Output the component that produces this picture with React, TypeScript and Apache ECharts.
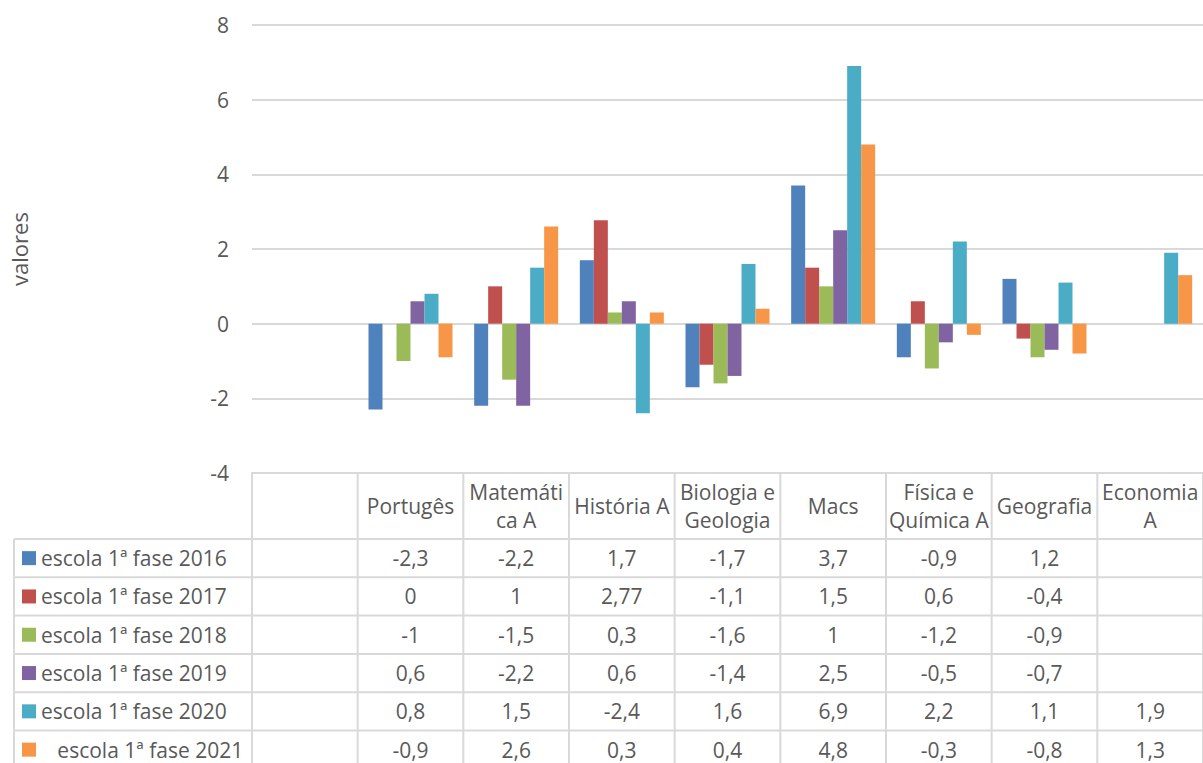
import React, { useEffect, useRef } from "react";
import * as echarts from "echarts";

const categories = ["", "Portugês", "Matemática A", "História A", "Biologia e Geologia", "Macs", "Física e Química A", "Geografia", "Economia A"];
const headerLabels = ["", "Portugês", "Matemáti\nca A", "História A", "Biologia e\nGeologia", "Macs", "Física e\nQuímica A", "Geografia", "Economia\nA"];
const seriesNames = [
  "escola 1ª fase 2016",
  "escola 1ª fase 2017",
  "escola 1ª fase 2018",
  "escola 1ª fase 2019",
  "escola 1ª fase 2020",
  "   escola 1ª fase 2021",
];
const s2016 = [null, -2.3, -2.2, 1.7, -1.7, 3.7, -0.9, 1.2, null];
const s2017 = [null, 0, 1, 2.77, -1.1, 1.5, 0.6, -0.4, null];
const s2018 = [null, -1, -1.5, 0.3, -1.6, 1, -1.2, -0.9, null];
const s2019 = [null, 0.6, -2.2, 0.6, -1.4, 2.5, -0.5, -0.7, null];
const s2020 = [null, 0.8, 1.5, -2.4, 1.6, 6.9, 2.2, 1.1, 1.9];
const s2021 = [null, -0.9, 2.6, 0.3, 0.4, 4.8, -0.3, -0.8, 1.3];
const seriesValues = [s2016, s2017, s2018, s2019, s2020, s2021];
const colors = ["#4F81BD", "#C0504D", "#9BBB59", "#8064A2", "#4BACC6", "#F79646"];
const yMin = -4;
const yMax = 8;
const yInterval = 2;

const FONT = "Open Sans";
const TXT = "#595959";
const LINE = "#d9d9d9";
const FS = 21;

export default function App() {
  const ref = useRef<HTMLDivElement>(null);
  useEffect(() => {
    if (!ref.current) return;
    const chart = echarts.init(ref.current, null, { renderer: "svg" });
    const W = 1203;
    const H = 763;
    const gridTop = 25;
    const gridBottomY = 473;
    chart.setOption({
      animation: false,
      backgroundColor: "#ffffff",
      textStyle: { fontFamily: FONT },
      grid: { left: 252, top: gridTop, right: 0, bottom: H - gridBottomY, containLabel: false, outerBoundsMode: "none" },
      xAxis: {
        type: "category",
        data: categories,
        position: "bottom",
        axisLine: { show: true, onZero: false, lineStyle: { color: LINE, width: 2 } },
        axisTick: { show: false },
        axisLabel: { show: false },
        splitLine: { show: false },
      },
      yAxis: {
        type: "value",
        min: yMin,
        max: yMax,
        interval: yInterval,
        name: "valores",
        nameLocation: "middle",
        nameRotate: 90,
        nameGap: 222,
        nameTextStyle: { color: TXT, fontSize: 22, fontFamily: FONT },
        axisLine: { show: false },
        axisTick: { show: false },
        axisLabel: { color: TXT, fontSize: FS, fontFamily: FONT, margin: 23 },
        splitLine: { lineStyle: { color: LINE, width: 2 } },
      },
      series: seriesValues.map((vals, i) => ({
        type: "bar",
        name: seriesNames[i],
        data: vals,
        barWidth: 14,
        barGap: "0%",
        itemStyle: { color: colors[i] },
      })),
    });

    // data table drawn under the plot
    const c0 = chart.convertToPixel({ xAxisIndex: 0 }, 0) as number;
    const c1 = chart.convertToPixel({ xAxisIndex: 0 }, 1) as number;
    const band = c1 - c0;
    const colCenter = (i: number) => chart.convertToPixel({ xAxisIndex: 0 }, i) as number;
    const headerBottom = 539;
    const rowH = 38.3;
    const legendLeft = 14;
    const elements: any[] = [];
    const ls = { stroke: LINE, lineWidth: 2 };
    for (let i = 0; i <= categories.length; i++) {
      const x = c0 - band / 2 + i * band;
      elements.push({ type: "line", shape: { x1: x, y1: gridBottomY, x2: x, y2: H + 5 }, style: ls, silent: true });
    }
    elements.push({ type: "line", shape: { x1: legendLeft, y1: headerBottom, x2: legendLeft, y2: H + 5 }, style: ls, silent: true });
    for (let r = 0; r <= seriesNames.length; r++) {
      const y = headerBottom + r * rowH;
      elements.push({ type: "line", shape: { x1: legendLeft, y1: y, x2: W, y2: y }, style: ls, silent: true });
    }
    headerLabels.forEach((lab, i) => {
      if (!lab) return;
      elements.push({
        type: "text",
        x: colCenter(i),
        y: (gridBottomY + headerBottom) / 2,
        style: { text: lab, fill: TXT, fontSize: FS, fontFamily: FONT, align: "center", verticalAlign: "middle", lineHeight: 28 },
        silent: true,
      });
    });
    seriesNames.forEach((name, r) => {
      const yc = headerBottom + rowH * (r + 0.5);
      elements.push({ type: "rect", shape: { x: 22, y: yc - 7, width: 14, height: 14 }, style: { fill: colors[r] }, silent: true });
      elements.push({
        type: "text",
        x: 41,
        y: yc,
        style: { text: name.replace(/ /g, "\u00a0"), fill: TXT, fontSize: FS, fontFamily: FONT, align: "left", verticalAlign: "middle" },
        silent: true,
      });
      seriesValues[r].forEach((v, i) => {
        if (v === null || v === undefined) return;
        elements.push({
          type: "text",
          x: colCenter(i),
          y: yc,
          style: { text: String(v).replace(".", ","), fill: TXT, fontSize: FS, fontFamily: FONT, align: "center", verticalAlign: "middle" },
          silent: true,
        });
      });
    });
    chart.setOption({ graphic: { elements } });
    return () => chart.dispose();
  }, []);
  return <div ref={ref} style={{ position: "fixed", left: 0, top: 0, width: 1203, height: 763 }} />;
}
